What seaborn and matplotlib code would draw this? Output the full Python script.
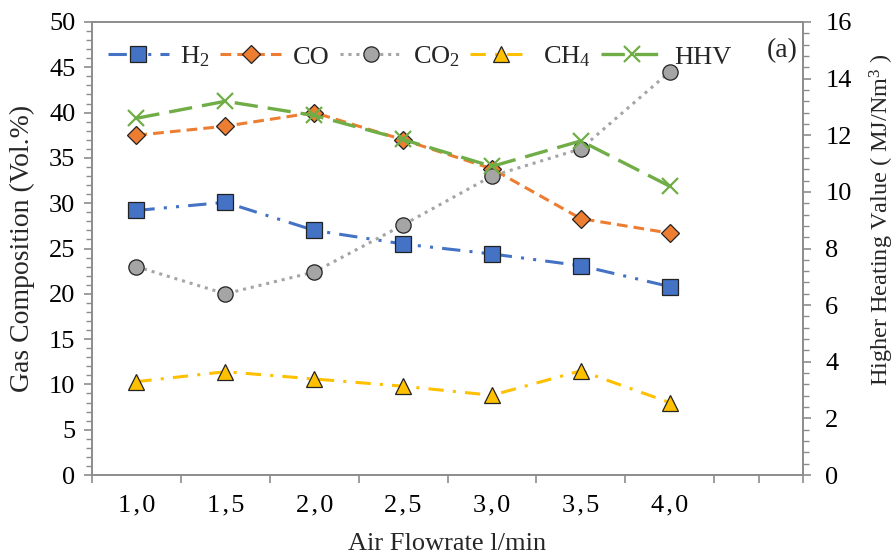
import matplotlib
matplotlib.use("Agg")
import matplotlib.pyplot as plt
import seaborn as sns
import numpy as np
import pandas as pd
from matplotlib.ticker import MultipleLocator

flowrate = ["1,0", "1,5", "2,0", "2,5", "3,0", "3,5", "4,0"]
xtick_labels = ["1\u200a,\u200a0", "1\u200a,\u200a5", "2\u200a,\u200a0", "2\u200a,\u200a5",
                "3\u200a,\u200a0", "3\u200a,\u200a5", "4\u200a,\u200a0"]
h2 = [29.2, 30.1, 27.0, 25.5, 24.4, 23.1, 20.8]
co = [37.5, 38.5, 40.0, 37.0, 33.8, 28.3, 26.7]
co2 = [23.0, 20.0, 22.4, 27.6, 33.0, 36.0, 44.5]
ch4 = [10.3, 11.4, 10.6, 9.8, 8.8, 11.5, 8.0]
hhv = [12.6, 13.2, 12.7, 11.85, 10.9, 11.8, 10.2]

sns.set_theme(style="white")
plt.rcParams['font.family'] = ['Liberation Serif', 'DejaVu Serif']
plt.rcParams['mathtext.fontset'] = 'custom'
plt.rcParams['mathtext.rm'] = 'Liberation Serif'
plt.rcParams['mathtext.it'] = 'Liberation Serif:italic'

fig = plt.figure(figsize=(8.96, 5.54), dpi=100)
ax = fig.add_axes([92/896, 1-475/554, (803-92)/896, (475-22)/554])
ax2 = ax.twinx()

df = pd.DataFrame({"x": flowrate, "H2": h2, "CO": co, "CO2": co2, "CH4": ch4, "HHV": hhv})

series = [
    ("H2", "H$_2$", "#4472C4", "s", (0, (6, 3, 1, 3, 1, 3)), 11.5),
    ("CO", "CO", "#ED7D31", "D", (0, (3.5, 2)), 9.5),
    ("CO2", "CO$_2$", "#A5A5A5", "o", (0, (1, 1.6)), 11),
    ("CH4", "CH$_4$", "#FFC000", "^", (0, (5, 3, 1, 3)), 12),
]
for key, lab, col, mk, ls, ms in series:
    sns.lineplot(data=df, x="x", y=key, ax=ax, color=col, marker=mk, linestyle=ls,
                 linewidth=2.2, markersize=ms, markeredgecolor="#222222",
                 markeredgewidth=0.9, label=lab, legend=False, sort=False)
sns.lineplot(data=df, x="x", y="HHV", ax=ax2, color="#70AD47", marker="x",
             linestyle=(0, (7, 3)), linewidth=2.4, markersize=11,
             markeredgecolor="#70AD47", markeredgewidth=1.6, label="HHV",
             legend=False, sort=False)

h1, l1 = ax.get_legend_handles_labels()
h2h, l2 = ax2.get_legend_handles_labels()
leg = ax2.legend(h1 + h2h, l1 + l2, ncol=5, loc="upper left",
                 bbox_to_anchor=(0.0, 0.985), frameon=False, fontsize=19,
                 handlelength=2.3, columnspacing=0.4, handletextpad=0.45,
                 borderaxespad=0.2)

ax.set_xlim(-0.5, 7.5)
ax.set_ylim(0, 50)
ax2.set_ylim(0, 16)
ax.yaxis.set_major_locator(MultipleLocator(5))
ax.yaxis.set_minor_locator(MultipleLocator(1))
ax2.yaxis.set_major_locator(MultipleLocator(2))
ax2.yaxis.set_minor_locator(MultipleLocator(0.4))
ax.set_xticks(range(len(flowrate)))
ax.set_xticklabels(xtick_labels)
ax.xaxis.set_minor_locator(MultipleLocator(0.5))

spine_col = "#8C8C8C"
for a in (ax, ax2):
    for s in a.spines.values():
        s.set_color(spine_col)
        s.set_linewidth(1.2)
ax.tick_params(axis="x", which="major", length=0, labelsize=19, pad=14, colors="black")
ax.tick_params(axis="x", which="minor", length=6, width=1.2, color=spine_col, direction="out", bottom=True)
ax.tick_params(axis="y", which="major", length=6, width=1.2, color=spine_col, labelsize=19,
               labelcolor="black", direction="out", left=True, pad=6)
ax.tick_params(axis="y", which="minor", length=4, width=1.0, color=spine_col, direction="out", left=True)
ax2.tick_params(axis="y", which="major", length=6, width=1.2, color=spine_col, labelsize=19,
                labelcolor="black", direction="out", right=True, pad=10)
ax2.tick_params(axis="y", which="minor", length=4, width=1.0, color=spine_col, direction="out", right=True)

ax.set_xlabel("Air Flowrate l/min", fontsize=19, labelpad=12)
ax.set_ylabel("Gas Composition (Vol.%)", fontsize=20, labelpad=10)
ax2.set_ylabel("Higher Heating Value ( MJ/Nm$^3$ )", fontsize=17.5)
ax2.yaxis.set_label_coords(1.091, 0.563)
ax2.text(0.993, 0.965, "(a)", transform=ax.transAxes, ha="right", va="top", fontsize=20)

fig.savefig("out.png", dpi=100)
